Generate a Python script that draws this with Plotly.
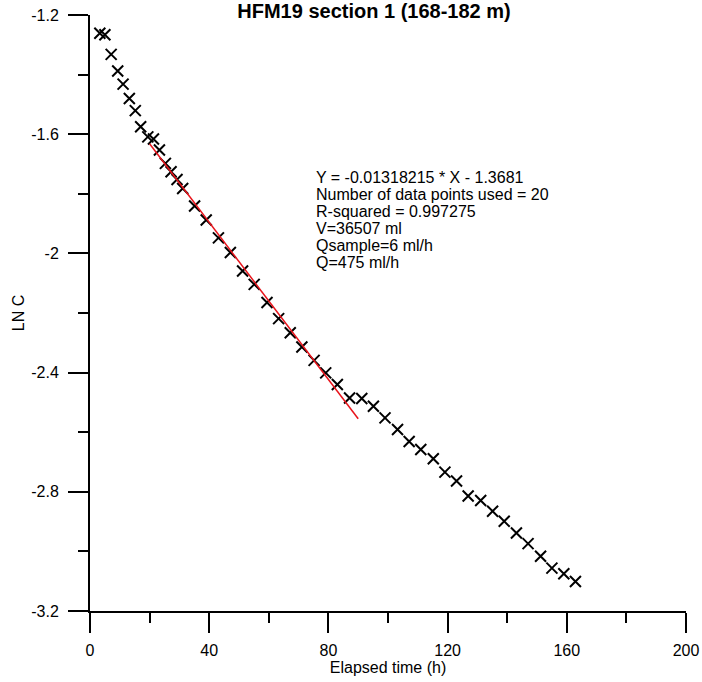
import plotly.graph_objects as go

# ---- data ----
elapsed_h = [3.3, 5.0, 7.1, 9.3, 11.1, 13.2, 15.2, 17.0, 19.4, 21.3,
             23.3, 25.3, 27.2, 29.2, 31.1, 35.1, 39.0, 43.1, 47.1, 51.2,
             55.1, 59.4, 63.3, 67.2, 71.1, 75.2, 79.1, 83.0, 87.1, 91.2,
             95.1, 99.0, 103.2, 107.1, 111.0, 115.2, 119.1, 123.0, 126.9, 131.1,
             135.1, 139.0, 143.1, 147.0, 151.2, 155.0, 159.0, 162.9]
ln_c = [-1.261, -1.266, -1.332, -1.388, -1.432, -1.480, -1.521, -1.575, -1.609, -1.616,
        -1.653, -1.698, -1.726, -1.752, -1.782, -1.841, -1.888, -1.948, -1.997, -2.059,
        -2.104, -2.165, -2.219, -2.266, -2.314, -2.359, -2.401, -2.440, -2.485, -2.487,
        -2.513, -2.552, -2.591, -2.631, -2.658, -2.689, -2.734, -2.764, -2.814, -2.829,
        -2.865, -2.899, -2.938, -2.974, -3.016, -3.056, -3.075, -3.101]

fit_x = [20, 90]
fit_y = [-1.632, -2.555]

x_major = [0, 40, 80, 120, 160, 200]
x_major_text = ["0", "40", "80", "120", "160", "200"]
x_minor = [20, 60, 100, 140, 180]
y_major = [-1.2, -1.6, -2.0, -2.4, -2.8, -3.2]
y_major_text = ["-1.2", "-1.6", "-2", "-2.4", "-2.8", "-3.2"]
y_minor = [-1.4, -1.8, -2.2, -2.6, -3.0]

info_lines = ["Y = -0.01318215 * X - 1.3681",
              "Number of data points used = 20",
              "R-squared = 0.997275",
              "V=36507 ml",
              "Qsample=6 ml/h",
              "Q=475 ml/h"]

title_text = "HFM19 section 1 (168-182 m)"
x_title = "Elapsed time (h)"
y_title = "LN C"

FONT = "Liberation Sans, Arial, sans-serif"

fig = go.Figure()
fig.add_trace(go.Scatter(
    x=elapsed_h, y=ln_c, mode="markers",
    marker=dict(symbol="x-thin", size=11, color="black",
                line=dict(color="black", width=2)),
    showlegend=False, cliponaxis=False))
fig.add_trace(go.Scatter(
    x=fit_x, y=fit_y, mode="lines",
    line=dict(color="#e8141b", width=1.5),
    showlegend=False))

W, H = 702, 682
L, R, T, B = 90, 16, 15, 71
ph = H - T - B

annotations = []
for i, txt in enumerate(info_lines):
    ypix = 177 + 17 * i
    annotations.append(dict(
        text=txt, xref="paper", yref="paper",
        x=(315 - L) / (W - L - R), y=1 - (ypix - T) / ph,
        xanchor="left", yanchor="middle", showarrow=False,
        font=dict(family=FONT, size=16, color="black"), borderpad=0))

axis_common = dict(
    showline=True, linecolor="black", linewidth=2,
    showgrid=False, zeroline=False, automargin=False,
    ticks="outside", ticklen=20, tickwidth=2, tickcolor="black",
    tickfont=dict(family=FONT, size=16, color="black"),
)

fig.update_layout(
    width=W, height=H,
    margin=dict(l=L, r=R, t=T, b=B, autoexpand=False),
    paper_bgcolor="white", plot_bgcolor="white",
    font=dict(family=FONT, size=16, color="black"),
    title=dict(text="<b>" + title_text + "</b>", x=374 / W, xanchor="center",
               xref="container", y=1 - 11 / H, yref="container", yanchor="middle",
               font=dict(family=FONT, size=20, color="black"), automargin=False),
    xaxis=dict(range=[0, 200], tickmode="array", tickvals=x_major, ticktext=x_major_text,
               minor=dict(tickmode="array", tickvals=x_minor, ticks="outside",
                          ticklen=10, tickwidth=2, tickcolor="black"),
               title=dict(text=x_title, font=dict(family=FONT, size=16, color="black"),
                          standoff=4),
               ticklabelstandoff=4,
               **axis_common),
    yaxis=dict(range=[-3.2, -1.2], tickmode="array", tickvals=y_major, ticktext=y_major_text,
               minor=dict(tickmode="array", tickvals=y_minor, ticks="outside",
                          ticklen=10, tickwidth=2, tickcolor="black"),
               title=dict(text=y_title, font=dict(family=FONT, size=16, color="black"),
                          standoff=3),
               ticklabelstandoff=6,
               **axis_common),
    annotations=annotations,
)

fig.write_html("out.html", config={"displayModeBar": False},
               post_script="document.body.style.margin='0';")
